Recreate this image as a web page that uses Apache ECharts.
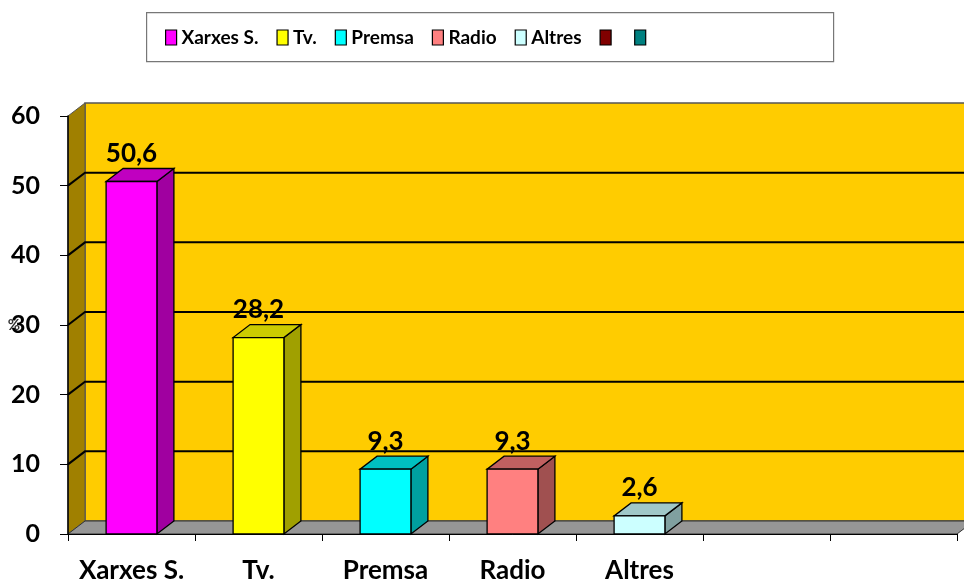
<!DOCTYPE html>
<html>
<head>
<meta charset="utf-8">
<script src="https://cdn.jsdelivr.net/npm/echarts@6/dist/echarts.min.js"></script>
<style>
html,body{margin:0;padding:0;background:#fff;}
#chart{width:964px;height:585px;}
</style>
</head>
<body>
<div id="chart"></div>
<script>
// ---- data ----
const categories = ['Xarxes S.', 'Tv.', 'Premsa', 'Radio', 'Altres', '', ''];
const seriesNames = ['Xarxes S.', 'Tv.', 'Premsa', 'Radio', 'Altres', '\u200b', '\u200c'];
const values = [50.6, 28.2, 9.3, 9.3, 2.6, null, null];
const yTicks = [0, 10, 20, 30, 40, 50, 60];
const frontColors = ['#FF00FF', '#FFFF00', '#00FFFF', '#FF8080', '#CCFFFF', '#800000', '#008080'];
const sideColors  = ['#A000A0', '#A0A000', '#00A0A0', '#A05050', '#80A0A0', '#500000', '#005050'];
const topColors   = ['#C000C0', '#CCCC00', '#00C0C0', '#C06060', '#A0C8C8', '#600000', '#006060'];

const DX = 17, DY = 13, BAR_FRAC = 0.4;
const FONT = 'Lato, "Open Sans", "Liberation Sans", sans-serif';

const chart = echarts.init(document.getElementById('chart'), null, {renderer: 'canvas'});

function renderWalls(params, api) {
  const cs = params.coordSys;
  const L = cs.x, R = cs.x + cs.width;
  const y0 = api.coord([0, yTicks[0]])[1];
  const yTop = api.coord([0, yTicks[yTicks.length - 1]])[1];
  const children = [];
  children.push({type: 'polygon', shape: {points: [[L + DX, yTop - DY], [R + DX, yTop - DY], [R + DX, y0 - DY], [L + DX, y0 - DY]]},
    style: {fill: '#FFCC00', stroke: '#555', lineWidth: 1.5}});
  children.push({type: 'polygon', shape: {points: [[L, y0], [L, yTop], [L + DX, yTop - DY], [L + DX, y0 - DY]]},
    style: {fill: '#A08000', stroke: '#555', lineWidth: 1}});
  children.push({type: 'polygon', shape: {points: [[L, y0], [R, y0], [R + DX, y0 - DY], [L + DX, y0 - DY]]},
    style: {fill: '#969696', stroke: '#333', lineWidth: 1}});
  yTicks.forEach(function (t) {
    if (t === yTicks[0] || t === yTicks[yTicks.length - 1]) return;
    const y = api.coord([0, t])[1];
    children.push({type: 'polyline', shape: {points: [[L, y], [L + DX, y - DY], [R + DX, y - DY]]},
      style: {stroke: '#000', lineWidth: 2, fill: null}});
  });
  return {type: 'group', children: children, silent: true};
}

function makeBarRenderer(idx) {
  return function (params, api) {
    const cat = api.value(0), v = api.value(1);
    const top = api.coord([cat, v]);
    const base = api.coord([cat, 0]);
    const bw = api.size([1, 0])[0] * BAR_FRAC;
    const x0 = top[0] - bw / 2, x1 = top[0] + bw / 2;
    const yt = top[1], yb = base[1];
    const lw = 1.3;
    return {
      type: 'group',
      children: [
        {type: 'polygon', shape: {points: [[x1, yb], [x1, yt], [x1 + DX, yt - DY], [x1 + DX, yb - DY]]},
          style: {fill: sideColors[idx], stroke: '#000', lineWidth: lw}},
        {type: 'polygon', shape: {points: [[x0, yt], [x1, yt], [x1 + DX, yt - DY], [x0 + DX, yt - DY]]},
          style: {fill: topColors[idx], stroke: '#000', lineWidth: lw}},
        {type: 'rect', shape: {x: x0, y: yt, width: bw, height: yb - yt},
          style: {fill: frontColors[idx], stroke: '#000', lineWidth: lw}},
        {type: 'text', x: top[0], y: yt - DY - 15,
          style: {text: String(v).replace('.', ','), fill: '#000', font: 'bold 26px ' + FONT,
            align: 'center', verticalAlign: 'middle'}}
      ]
    };
  };
}

const series = [{
  type: 'custom', name: 'walls', data: [[0, 0]], renderItem: renderWalls, z: 1, silent: true
}];
seriesNames.forEach(function (name, i) {
  series.push({
    type: 'custom', name: name, z: 3,
    itemStyle: {color: frontColors[i]},
    data: values[i] == null ? [] : [[i, values[i]]],
    renderItem: makeBarRenderer(i)
  });
});

chart.setOption({
  animation: false,
  backgroundColor: '#fff',
  grid: {left: 68, right: 7, top: 116, bottom: 51, containLabel: false, outerBoundsMode: 'none'},
  graphic: [{type: 'rect', left: 146, top: 12, shape: {width: 687, height: 49},
    style: {fill: '#fff', stroke: '#777', lineWidth: 1.2}, z: -1}],
  legend: {
    data: seriesNames,
    left: 165, top: 28, padding: 0,
    itemWidth: 11, itemHeight: 15, itemGap: 18,
    icon: 'rect',
    itemStyle: {borderColor: '#000', borderWidth: 1.2},
    textStyle: {fontFamily: FONT, fontWeight: 'bold', fontSize: 19, color: '#000'},
    selectedMode: false, z: 5
  },
  xAxis: {
    type: 'category', data: categories, boundaryGap: true,
    axisLine: {show: true, lineStyle: {color: '#000', width: 1}},
    axisTick: {show: true, length: 7, lineStyle: {color: '#000'}},
    axisLabel: {show: true, interval: 0, margin: 24, color: '#000', fontFamily: FONT, fontWeight: 'bold', fontSize: 26},
    splitLine: {show: false}, z: 4
  },
  yAxis: {
    type: 'value', min: 0, max: 60, interval: 10,
    name: '%', nameLocation: 'middle', nameGap: 48, nameRotate: 0, nameMoveOverlap: false,
    nameTextStyle: {fontFamily: FONT, fontWeight: 'bold', fontSize: 15, color: '#333', padding: [0, 0, 8, 0]},
    axisLine: {show: true, lineStyle: {color: '#000', width: 1.5}},
    axisTick: {show: true, length: 8, lineStyle: {color: '#000'}},
    axisLabel: {margin: 28, color: '#000', fontFamily: FONT, fontWeight: 'bold', fontSize: 25},
    splitLine: {show: false}, z: 4
  },
  series: series
});
</script>
</body>
</html>
